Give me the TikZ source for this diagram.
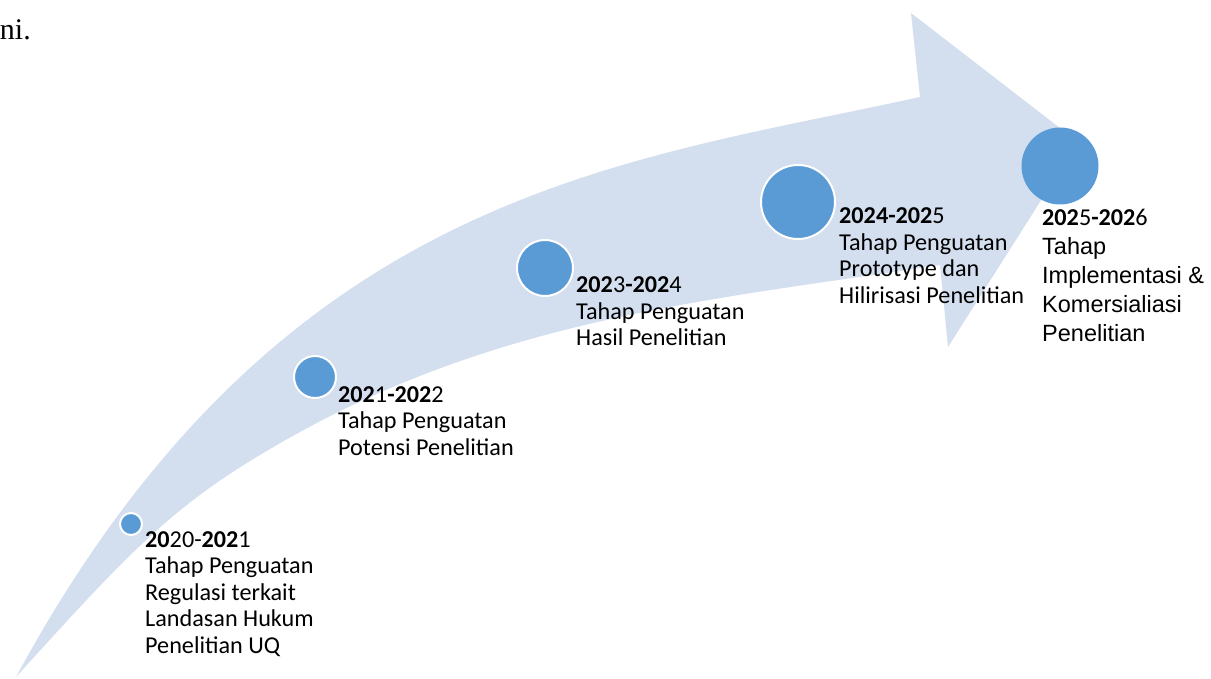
\documentclass[tikz,border=0pt]{standalone}
\usepackage{fontspec}
\setmainfont{Carlito}
\newfontfamily\arialf{Liberation Sans}
\newfontfamily\timesf{Liberation Serif}
\definecolor{band}{HTML}{D3DEEF}
\definecolor{dot}{HTML}{5B9BD5}
\begin{document}
\begin{tikzpicture}[x=1pt,y=-1pt,
  lbl/.style={anchor=base west, inner sep=0pt, font=\fontsize{24.2}{26.5}\selectfont},
  dotb/.style={circle, fill=dot, draw=white, line width=2pt, inner sep=0pt},
]
\useasboundingbox (0,0) rectangle (1211,679);
% curved arrow
\fill[band] (16,677) .. controls (280,190) and (620,163) .. (920,97)
  -- (911,13) -- (1078,142) -- (948,347) -- (940,265)
  .. controls (727,298) and (513,315) .. (300,432)
  .. controls (180,498) and (140,540) .. (16,677) -- cycle;
% dots
\node[dotb, minimum size=22pt] (c1) at (131,524) {};
\node[dotb, minimum size=42pt] (c2) at (315,377) {};
\node[dotb, minimum size=56pt] (c3) at (545,268) {};
\node[dotb, minimum size=74pt] (c4) at (798,202) {};
\node[circle, fill=dot, inner sep=0pt, minimum size=77pt] (c5) at (1060,166) {};
% labels
\node[lbl] (l1) at (145,547) {\begin{tabular}[t]{@{}l@{}}\textbf{20}20-\textbf{202}1\\ Tahap Penguatan\\ Regulasi terkait\\ Landasan Hukum\\ Penelitian UQ\end{tabular}};
\node[lbl] (l2) at (338,402) {\begin{tabular}[t]{@{}l@{}}\textbf{202}1\textbf{-202}2\\ Tahap Penguatan\\ Potensi Penelitian\end{tabular}};
\node[lbl] (l3) at (576,293) {\begin{tabular}[t]{@{}l@{}}\textbf{202}3\textbf{-202}4\\ Tahap Penguatan\\ Hasil Penelitian\end{tabular}};
\node[lbl] (l4) at (839,224) {\begin{tabular}[t]{@{}l@{}}\textbf{2024-202}5\\ Tahap Penguatan\\ Prototype dan\\ Hilirisasi Penelitian\end{tabular}};
\node[lbl, font=\fontsize{23.5}{29}\selectfont] (l5) at (1042,226) {\begin{tabular}[t]{@{}l@{}}\fontsize{24.2}{29}\selectfont\textbf{202}5\textbf{-202}6\\ \arialf Tahap\\ \arialf Implementasi \&\\ \arialf Komersialiasi\\ \arialf Penelitian\end{tabular}};
\node[anchor=base east, inner sep=0pt, font=\timesf\fontsize{30}{34}\selectfont] (ni) at (31,40) {ni.};
\end{tikzpicture}
\end{document}
